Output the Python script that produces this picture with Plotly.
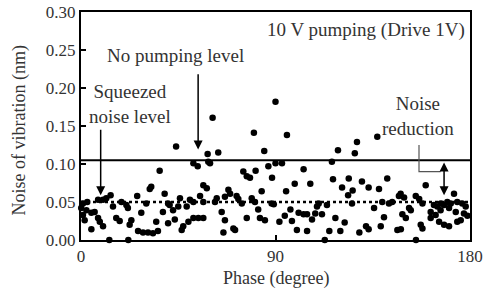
import plotly.graph_objects as go

phase = [0.1, 0.9, 0.9, 1.7, 2.5, 2.9, 4.8, 4.8, 6.3, 7.9, 7.9, 8.7, 10.2, 10.2, 11.7, 13.1, 13.7, 14.8,
         16.3, 17.9, 18.7, 21.0, 21.7, 21.9, 22.5, 23.3, 26.0, 26.4, 27.9, 28.7, 30.2, 31.0, 31.8, 32.5,
         33.3, 34.8, 35.6, 36.4, 37.9, 38.7, 40.3, 40.3, 41.0, 42.6, 43.4, 44.0, 45.0, 45.8, 46.6, 47.3,
         48.9, 49.7, 50.4, 52.0, 52.0, 52.0, 54.0, 54.3, 55.1, 56.6, 56.6, 56.6, 58.2, 58.6, 58.9, 59.7,
         60.9, 62.0, 62.8, 63.5, 65.1, 65.9, 66.6, 66.6, 68.2, 69.0, 70.5, 71.3, 72.0, 72.8, 74.4, 75.1,
         76.7, 76.7, 78.2, 79.0, 80.0, 80.5, 80.8, 82.0, 82.8, 83.6, 84.8, 85.1, 86.7, 88.2, 88.4, 89.2,
         90.0, 90.0, 91.8, 93.0, 94.3, 94.9, 95.3, 96.9, 97.6, 98.9, 99.9, 100.7, 103.0, 103.0, 104.6,
         104.6, 106.1, 106.9, 108.4, 109.2, 110.0, 111.5, 112.8, 113.8, 114.9, 116.1, 116.6, 117.7, 118.9,
         120.0, 120.8, 122.0, 123.6, 123.9, 125.4, 125.7, 126.7, 127.7, 128.8, 130.0, 131.9, 133.1, 133.1,
         135.6, 137.1, 137.9, 138.7, 139.4, 140.2, 141.7, 142.5, 144.0, 146.4, 147.1, 147.9, 148.0, 148.7,
         149.5, 150.3, 151.8, 152.6, 154.9, 155.0, 156.5, 157.2, 158.0, 158.0, 159.5, 161.8, 161.8, 163.3,
         164.1, 164.9, 165.7, 166.4, 166.4, 168.0, 168.0, 169.5, 170.3, 170.3, 171.1, 172.6, 173.4, 174.1,
         174.1, 175.7, 176.4, 177.2, 178.0, 178.8]
noise = [0.042, 0.048, 0.033, 0.026, 0.039, 0.050, 0.036, 0.014, 0.037, 0.053, 0.029, 0.024, 0.053, 0.018,
         0.055, 0.000, 0.059, 0.044, 0.029, 0.025, 0.050, 0.046, 0.042, 0.000, 0.020, 0.026, 0.058, 0.012,
         0.036, 0.010, 0.048, 0.010, 0.067, 0.070, 0.009, 0.024, 0.012, 0.091, 0.037, 0.061, 0.048, 0.022,
         0.046, 0.039, 0.027, 0.123, 0.044, 0.055, 0.013, 0.018, 0.044, 0.024, 0.053, 0.050, 0.029, 0.101,
         0.097, 0.029, 0.058, 0.072, 0.050, 0.029, 0.068, 0.113, 0.103, 0.101, 0.161, 0.050, 0.055, 0.115,
         0.037, 0.010, 0.057, 0.026, 0.066, 0.061, 0.015, 0.013, 0.058, 0.054, 0.048, 0.090, 0.084, 0.029,
         0.082, 0.055, 0.141, 0.050, 0.091, 0.040, 0.029, 0.064, 0.117, 0.026, 0.097, 0.048, 0.082, 0.047,
         0.182, 0.101, 0.024, 0.101, 0.032, 0.064, 0.138, 0.040, 0.025, 0.074, 0.013, 0.036, 0.093, 0.034,
         0.034, 0.012, 0.074, 0.027, 0.035, 0.044, 0.048, 0.034, 0.000, 0.046, 0.012, 0.103, 0.080, 0.029,
         0.118, 0.012, 0.069, 0.023, 0.059, 0.081, 0.048, 0.065, 0.114, 0.129, 0.010, 0.077, 0.018, 0.069,
         0.014, 0.042, 0.136, 0.067, 0.018, 0.050, 0.030, 0.081, 0.048, 0.050, 0.013, 0.058, 0.061, 0.014,
         0.034, 0.056, 0.029, 0.042, 0.039, 0.058, 0.000, 0.054, 0.020, 0.048, 0.015, 0.072, 0.037, 0.029,
         0.046, 0.033, 0.044, 0.024, 0.048, 0.039, 0.046, 0.020, 0.050, 0.042, 0.018, 0.048, 0.061, 0.037,
         0.050, 0.024, 0.026, 0.048, 0.035, 0.044, 0.032]

no_pumping_level = 0.105
squeezed_level = 0.05
x_ticks = [0, 90, 180]
y_ticks = [0.00, 0.05, 0.10, 0.15, 0.20, 0.25, 0.30]
y_tick_labels = ["0.00", "0.05", "0.10", "0.15", "0.20", "0.25", "0.30"]

FONT = "'Times New Roman', 'Liberation Serif', 'DejaVu Serif', serif"
TXT = "#333333"

fig = go.Figure()
fig.add_trace(go.Scatter(x=phase, y=noise, mode="markers",
                         marker=dict(color="black", size=6.5), cliponaxis=False,
                         showlegend=False))

# reference levels
fig.add_shape(type="line", xref="x", yref="y", x0=0, x1=180, y0=no_pumping_level, y1=no_pumping_level,
              line=dict(color="black", width=2))
fig.add_shape(type="line", xref="x", yref="y", x0=0, x1=180, y0=squeezed_level, y1=squeezed_level,
              line=dict(color="black", width=2.5, dash="dot"))

ann_font = dict(family=FONT, size=19, color=TXT)
fig.add_annotation(x=131.9, y=0.276, xref="x", yref="y", text="10 V pumping (Drive 1V)",
                   showarrow=False, font=ann_font)
fig.add_annotation(x=43.5, y=0.243, xref="x", yref="y", text="No pumping level",
                   showarrow=False, font=ann_font)
fig.add_annotation(x=22.7, y=0.179, xref="x", yref="y", text="Squeezed<br>noise level",
                   showarrow=False, font=ann_font)
fig.add_annotation(x=156.0, y=0.163, xref="x", yref="y", text="Noise<br>reduction",
                   showarrow=False, font=ann_font)

# axis titles
fig.add_annotation(x=0.5, y=-0.171, xref="paper", yref="paper", text="Phase (degree)",
                   xanchor="center", yanchor="middle",
                   showarrow=False, font=dict(family=FONT, size=18, color=TXT))
fig.add_annotation(x=-0.157, y=0.48, xref="paper", yref="paper", text="Noise of vibration (nm)",
                   xanchor="center", yanchor="middle",
                   textangle=-90, showarrow=False, font=dict(family=FONT, size=18, color=TXT))

# arrows
fig.add_annotation(x=54.2, y=0.119, ax=54.2, ay=0.220, xref="x", yref="y", axref="x", ayref="y",
                   text="", showarrow=True, arrowhead=2, arrowsize=1.2, arrowwidth=1.5,
                   arrowcolor="black")
fig.add_annotation(x=9.1, y=0.059, ax=9.1, ay=0.147, xref="x", yref="y", axref="x", ayref="y",
                   text="", showarrow=True, arrowhead=2, arrowsize=1.2, arrowwidth=1.5,
                   arrowcolor="black")
fig.add_annotation(x=168.0, y=0.059, ax=168.0, ay=0.104, xref="x", yref="y", axref="x", ayref="y",
                   text="", showarrow=True, arrowhead=2, startarrowhead=2, arrowside="end+start",
                   arrowsize=1.2, arrowwidth=1.5, arrowcolor="black")
fig.add_shape(type="path", xref="x", yref="y",
              path="M 156.4 0.125 L 156.4 0.090 L 166.4 0.090",
              line=dict(color="#555555", width=1.2))

axis_common = dict(showline=True, linecolor="black", linewidth=2, mirror=True,
                   ticks="inside", ticklen=5, tickwidth=1.5, tickcolor="black",
                   showgrid=False, zeroline=False, automargin=False,
                   tickfont=dict(family=FONT, size=17, color=TXT))
fig.update_xaxes(range=[0, 180], tickvals=x_ticks, **axis_common)
fig.update_yaxes(range=[0, 0.30], tickvals=y_ticks, ticktext=y_tick_labels, **axis_common)

fig.update_layout(width=492, height=293, margin=dict(l=81, r=22, t=12, b=53),
                  plot_bgcolor="white", paper_bgcolor="white",
                  font=dict(family=FONT, color=TXT))

fig.write_html("out.html", config={"displayModeBar": False},
               post_script="document.body.style.margin='0';document.body.style.overflow='hidden';")
